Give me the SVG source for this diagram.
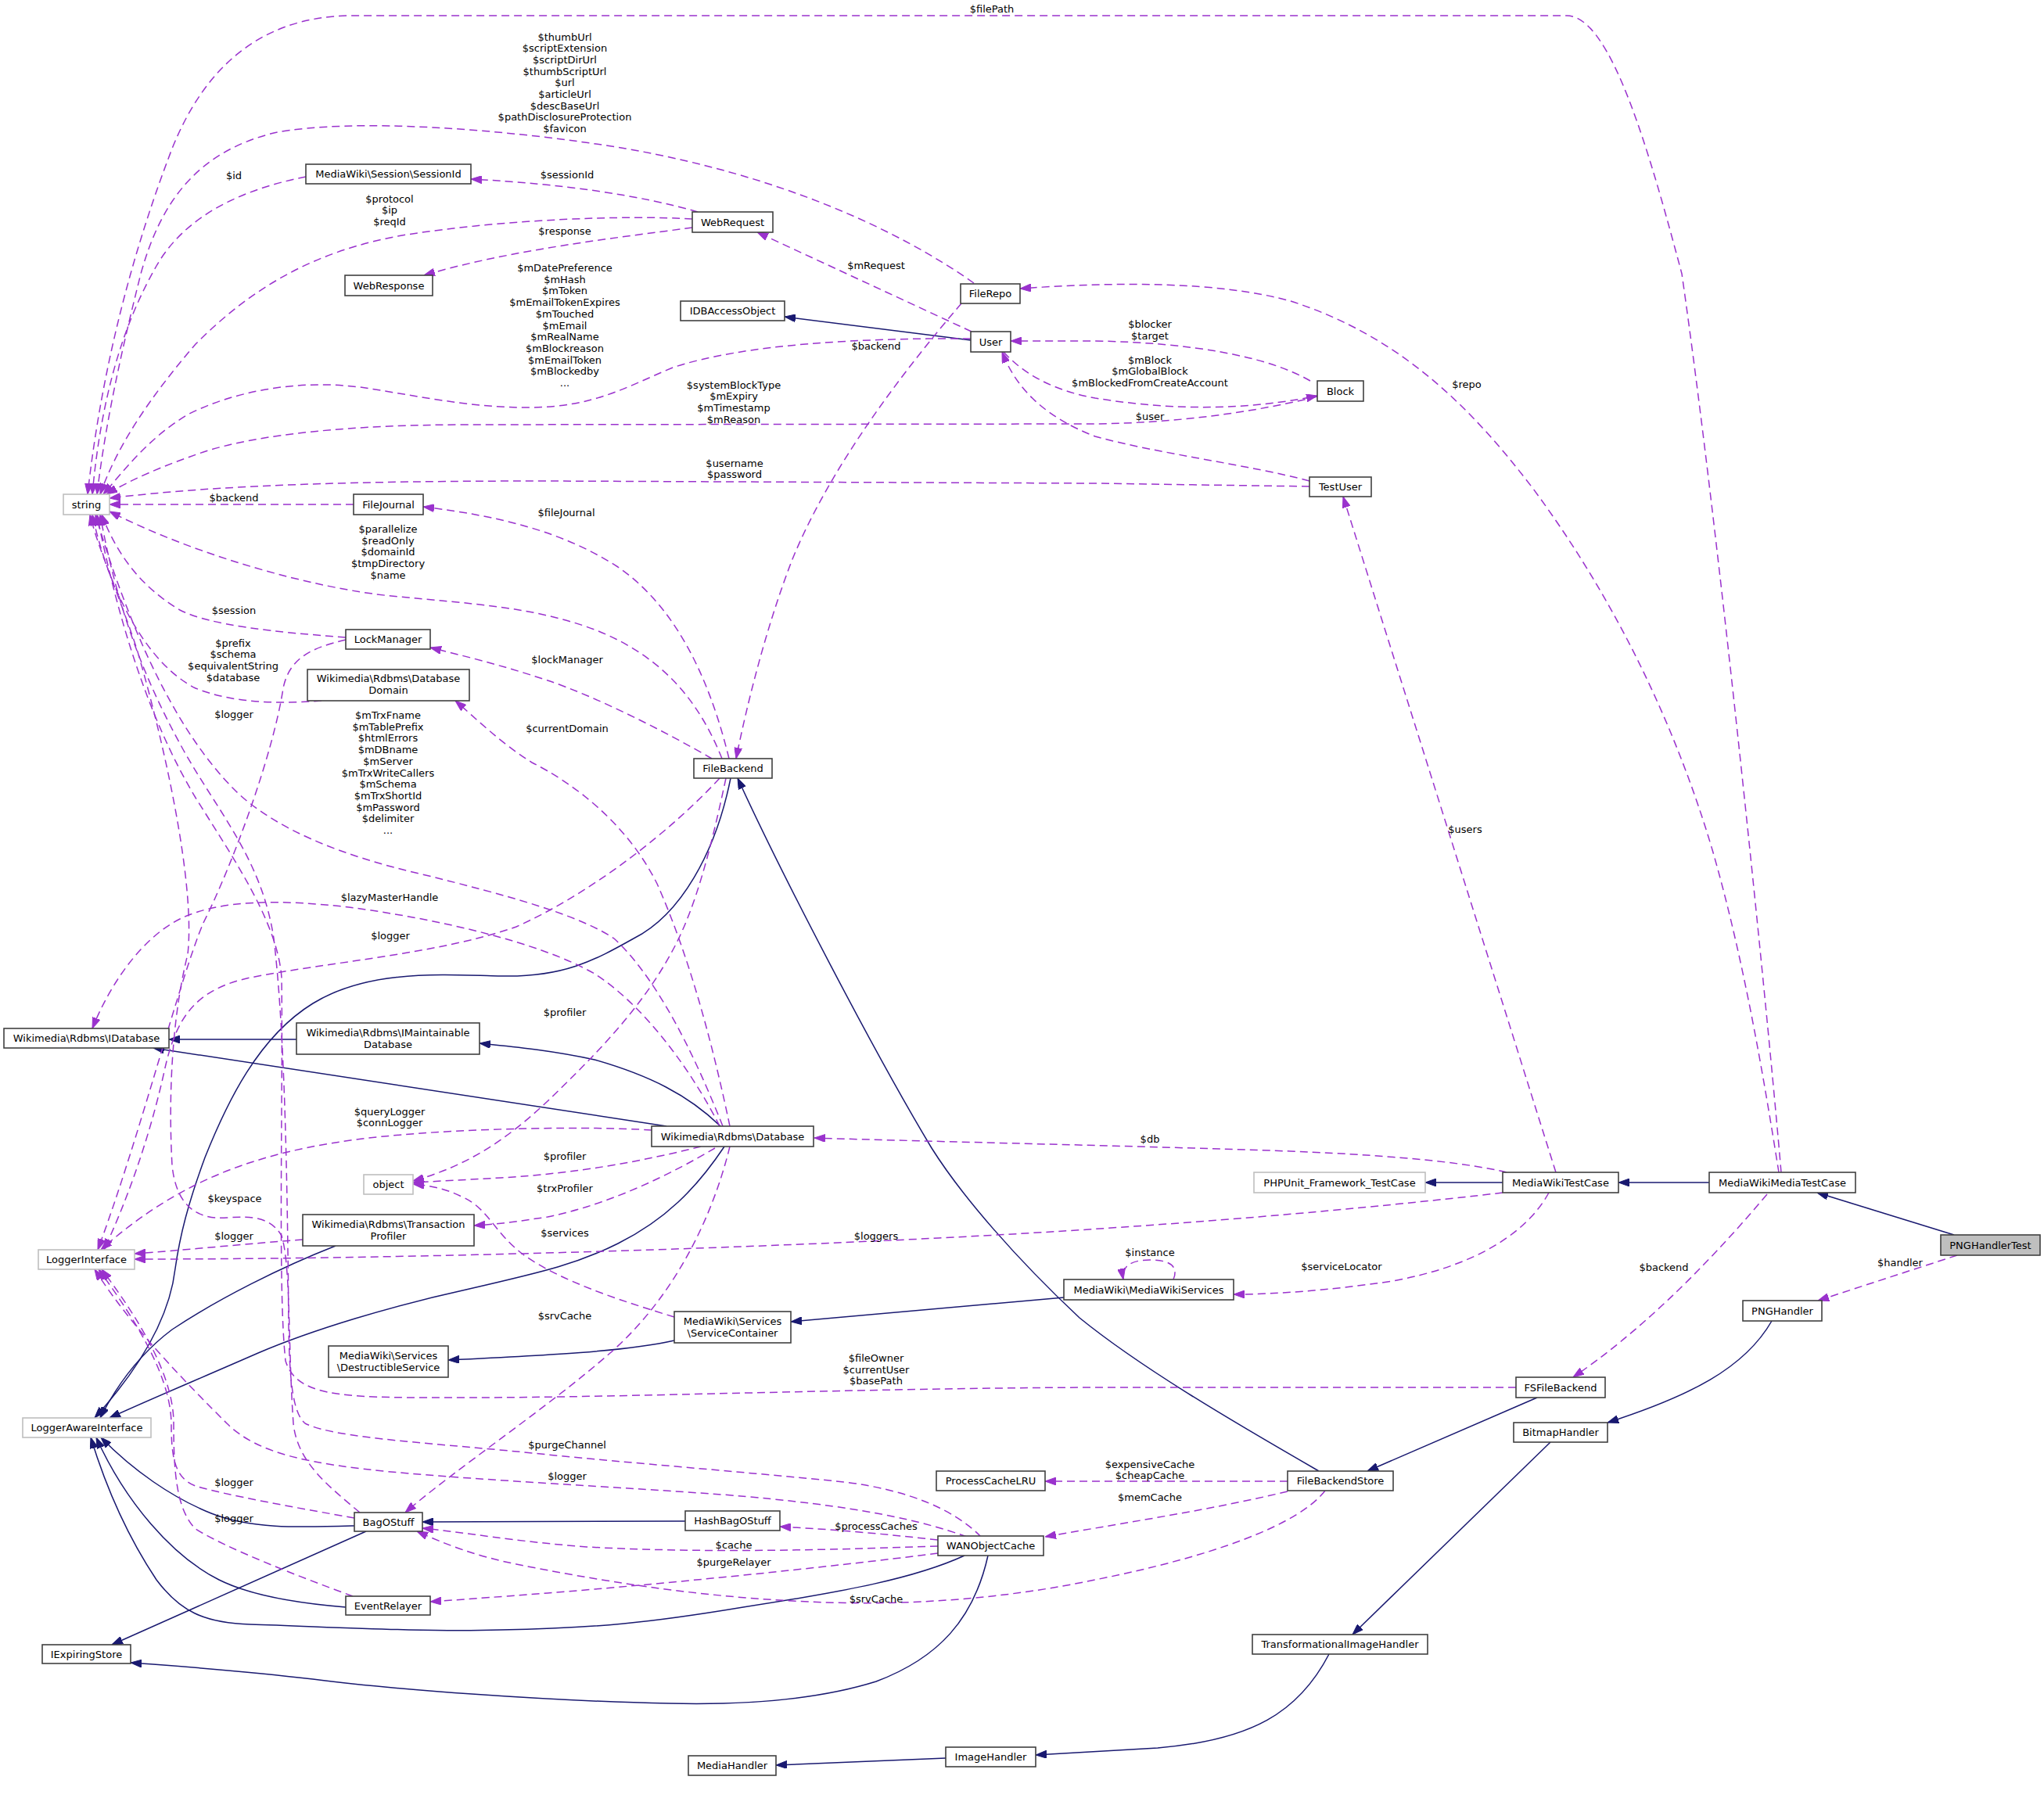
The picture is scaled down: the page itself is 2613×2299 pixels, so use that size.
<svg xmlns="http://www.w3.org/2000/svg" width="2613" height="2299" viewBox="0 0 2613 2299">
<style>
text{font-family:"DejaVu Sans","Liberation Sans",sans-serif;font-size:13px;fill:#000}
.nd rect{fill:#fff;stroke:#404040;stroke-width:1.6}
.nd.gr rect{stroke:#bfbfbf}
.nd.hl rect{fill:#bfbfbf}
.nd text{text-anchor:middle}
.lb{text-anchor:middle}
.u{fill:none;stroke:#9a32cd;stroke-width:1.5;stroke-dasharray:10,6;marker-end:url(#ap)}
.i{fill:none;stroke:#191970;stroke-width:1.5;marker-end:url(#an)}
</style>
<defs>
<marker id="ap" viewBox="0 0 14 10" refX="14" refY="5" markerWidth="14" markerHeight="10" markerUnits="userSpaceOnUse" orient="auto"><path d="M0,0 L14,5 L0,10 z" fill="#9a32cd" stroke="#9a32cd"/></marker>
<marker id="an" viewBox="0 0 14 10" refX="14" refY="5" markerWidth="14" markerHeight="10" markerUnits="userSpaceOnUse" orient="auto"><path d="M0,0 L14,5 L0,10 z" fill="#191970" stroke="#191970"/></marker>
</defs>
<rect width="2613" height="2299" fill="#fff"/>
<g id="edges">
<path class="i" d="M1241,435 L1003,405"/>
<path class="i" d="M934,995 C915,1090 870,1170 810,1200 C760,1228 720,1250 640,1248 C560,1246 470,1240 400,1283 C330,1326 290,1410 262,1480 C240,1540 230,1580 224,1622 C215,1700 160,1770 121,1813"/>
<path class="i" d="M926,1466 C890,1520 850,1560 790,1590 C740,1615 700,1625 600,1648 C500,1670 400,1700 330,1730 C250,1765 190,1790 140,1813"/>
<path class="i" d="M429,1593 C360,1620 280,1660 220,1700 C180,1730 150,1770 128,1813"/>
<path class="i" d="M453,1951 C380,1953 320,1955 270,1935 C220,1915 170,1880 129,1838"/>
<path class="i" d="M442,2055 C380,2050 320,2040 280,2020 C220,1990 160,1920 123,1838"/>
<path class="i" d="M1233,1989 C1170,2018 1080,2035 950,2055 C830,2075 760,2082 640,2084 C540,2087 420,2080 320,2077 C260,2075 230,2060 200,2020 C160,1960 135,1900 116,1838"/>
<path class="i" d="M379,1329 L216,1329"/>
<path class="i" d="M921,1440 C880,1400 830,1375 760,1355 C700,1342 650,1338 613,1334"/>
<path class="i" d="M852,1440 L196,1340"/>
<path class="i" d="M862,1714 C800,1728 700,1733 573,1739"/>
<path class="i" d="M1360,1659 L1011,1690"/>
<path class="i" d="M876,1945 L540,1946"/>
<path class="i" d="M468,1958 L143,2103"/>
<path class="i" d="M1263,1989 C1245,2070 1200,2120 1120,2150 C1040,2175 940,2180 856,2178 C700,2175 500,2160 400,2147 C300,2135 220,2130 167,2126"/>
<path class="i" d="M1921,1512 L1822,1512"/>
<path class="i" d="M2185,1512 L2069,1512"/>
<path class="i" d="M2498,1579 L2323,1525"/>
<path class="i" d="M2265,1689 C2230,1750 2160,1785 2055,1819"/>
<path class="i" d="M1965,1787 L1748,1881"/>
<path class="i" d="M1686,1881 C1580,1820 1460,1750 1380,1685 C1300,1610 1230,1530 1191,1468 C1120,1350 1000,1120 943,995"/>
<path class="i" d="M1982,1844 L1729,2090"/>
<path class="i" d="M1699,2115 C1660,2190 1600,2225 1480,2235 L1324,2244"/>
<path class="i" d="M1209,2248 L992,2257"/>

<path class="u" d="M2277,1499 C2260,1300 2200,700 2150,350 C2110,200 2060,20 2003,20 L446,20 C330,22 260,90 220,190 C170,320 130,470 112,632"/>
<text class="lb" x="1268" y="16">$filePath</text>
<path class="u" d="M2274,1499 C2255,1380 2230,1230 2190,1090 C2140,920 2060,760 1960,625 C1880,520 1790,430 1650,385 C1560,360 1430,360 1304,369"/>
<text class="lb" x="1875" y="495.5">$repo</text>
<path class="u" d="M1245,362 C1150,295 1000,225 800,190 C650,165 450,150 350,170 C250,195 205,260 180,350 C155,450 135,540 124,632"/>
<text class="lb" x="722" y="51.5">$thumbUrl</text>
<text class="lb" x="722" y="66.2">$scriptExtension</text>
<text class="lb" x="722" y="80.9">$scriptDirUrl</text>
<text class="lb" x="722" y="95.6">$thumbScriptUrl</text>
<text class="lb" x="722" y="110.3">$url</text>
<text class="lb" x="722" y="125">$articleUrl</text>
<text class="lb" x="722" y="139.7">$descBaseUrl</text>
<text class="lb" x="722" y="154.4">$pathDisclosureProtection</text>
<text class="lb" x="722" y="169.1">$favicon</text>
<path class="u" d="M391,226 C320,240 240,270 200,340 C160,410 130,500 118,632"/>
<text class="lb" x="299" y="228.5">$id</text>
<path class="u" d="M885,280 C800,275 650,280 520,300 C400,320 320,370 250,440 C190,510 150,570 128,632"/>
<text class="lb" x="498" y="258.5">$protocol</text>
<text class="lb" x="498" y="273.2">$ip</text>
<text class="lb" x="498" y="287.9">$reqId</text>
<path class="u" d="M892,271 C820,250 720,235 602,229"/>
<text class="lb" x="725" y="227.5">$sessionId</text>
<path class="u" d="M885,291 C780,305 650,320 542,352"/>
<text class="lb" x="722" y="299.5">$response</text>
<path class="u" d="M1242,424 L968,297"/>
<text class="lb" x="1120" y="343.5">$mRequest</text>
<path class="u" d="M1241,433 C1100,432 950,440 860,470 C800,495 760,520 680,521 C600,522 530,505 460,495 C380,485 300,500 240,530 C190,560 160,600 132,632"/>
<text class="lb" x="722" y="347">$mDatePreference</text>
<text class="lb" x="722" y="361.7">$mHash</text>
<text class="lb" x="722" y="376.4">$mToken</text>
<text class="lb" x="722" y="391.1">$mEmailTokenExpires</text>
<text class="lb" x="722" y="405.8">$mTouched</text>
<text class="lb" x="722" y="420.5">$mEmail</text>
<text class="lb" x="722" y="435.2">$mRealName</text>
<text class="lb" x="722" y="449.9">$mBlockreason</text>
<text class="lb" x="722" y="464.6">$mEmailToken</text>
<text class="lb" x="722" y="479.3">$mBlockedby</text>
<text class="lb" x="722" y="494">...</text>
<path class="u" d="M1684,507 C1600,528 1500,541 1400,542 L600,543 C450,543 330,555 260,578 C210,595 170,612 136,632"/>
<text class="lb" x="938" y="496.5">$systemBlockType</text>
<text class="lb" x="938" y="511.2">$mExpiry</text>
<text class="lb" x="938" y="525.9">$mTimestamp</text>
<text class="lb" x="938" y="540.6">$mReason</text>
<path class="u" d="M1674,622 L1400,618 L700,615 C450,615 280,620 140,637"/>
<text class="lb" x="939" y="596.5">$username</text>
<text class="lb" x="939" y="611.2">$password</text>
<path class="u" d="M1283,450 C1310,480 1350,500 1400,509 C1480,522 1580,528 1684,506"/>
<text class="lb" x="1470" y="464.5">$mBlock</text>
<text class="lb" x="1470" y="479.2">$mGlobalBlock</text>
<text class="lb" x="1470" y="493.9">$mBlockedFromCreateAccount</text>
<path class="u" d="M1675,487 C1620,455 1520,438 1400,436 L1292,436"/>
<text class="lb" x="1470" y="419">$blocker</text>
<text class="lb" x="1470" y="433.7">$target</text>
<path class="u" d="M1674,615 C1600,595 1480,580 1400,558 C1340,535 1300,500 1281,450"/>
<text class="lb" x="1470" y="536.5">$user</text>
<path class="u" d="M452,645 L140,645"/>
<text class="lb" x="299" y="640.5">$backend</text>
<path class="u" d="M923,970 C895,900 850,840 760,805 C680,775 600,772 500,762 C400,752 250,710 140,654"/>
<text class="lb" x="496" y="681">$parallelize</text>
<text class="lb" x="496" y="695.7">$readOnly</text>
<text class="lb" x="496" y="710.4">$domainId</text>
<text class="lb" x="496" y="725.1">$tmpDirectory</text>
<text class="lb" x="496" y="739.8">$name</text>
<path class="u" d="M932,970 C910,880 870,780 790,725 C720,680 640,660 541,648"/>
<text class="lb" x="724" y="660">$fileJournal</text>
<path class="u" d="M442,815 C350,808 270,800 230,780 C180,750 150,710 130,658"/>
<text class="lb" x="299" y="784.5">$session</text>
<path class="u" d="M411,896 C360,900 300,900 250,880 C190,850 140,760 118,658"/>
<text class="lb" x="298" y="826.5">$prefix</text>
<text class="lb" x="298" y="841.2">$schema</text>
<text class="lb" x="298" y="855.9">$equivalentString</text>
<text class="lb" x="298" y="870.6">$database</text>
<path class="u" d="M442,818 C400,828 370,840 362,880 C350,960 300,1100 260,1180 C230,1250 180,1450 125,1598"/>
<text class="lb" x="299" y="917.5">$logger</text>
<path class="u" d="M910,970 C850,935 760,890 700,870 C640,850 590,838 550,828"/>
<text class="lb" x="725" y="848">$lockManager</text>
<path class="u" d="M1229,388 C1150,480 1060,600 1013,715 C980,800 955,900 941,970"/>
<text class="lb" x="1120" y="446.5">$backend</text>
<path class="u" d="M933,1440 C910,1330 880,1220 840,1130 C800,1050 730,1000 680,975 C640,950 610,920 582,896"/>
<text class="lb" x="725" y="935.5">$currentDomain</text>
<path class="u" d="M924,1440 C900,1380 850,1260 785,1200 C740,1170 650,1145 536,1117 C440,1095 350,1060 300,1010 C230,940 170,820 122,658"/>
<text class="lb" x="496" y="919">$mTrxFname</text>
<text class="lb" x="496" y="933.7">$mTablePrefix</text>
<text class="lb" x="496" y="948.4">$htmlErrors</text>
<text class="lb" x="496" y="963.1">$mDBname</text>
<text class="lb" x="496" y="977.8">$mServer</text>
<text class="lb" x="496" y="992.5">$mTrxWriteCallers</text>
<text class="lb" x="496" y="1007.2">$mSchema</text>
<text class="lb" x="496" y="1021.9">$mTrxShortId</text>
<text class="lb" x="496" y="1036.6">$mPassword</text>
<text class="lb" x="496" y="1051.3">$delimiter</text>
<text class="lb" x="496" y="1066">...</text>
<path class="u" d="M920,1440 C890,1380 830,1290 760,1245 C690,1205 560,1175 446,1160 C360,1150 280,1150 230,1175 C180,1200 140,1260 118,1315"/>
<text class="lb" x="498" y="1151.5">$lazyMasterHandle</text>
<path class="u" d="M920,995 C860,1060 760,1140 660,1185 C560,1220 420,1230 320,1250 C250,1265 225,1300 210,1370 C190,1460 160,1540 133,1598"/>
<text class="lb" x="499" y="1200.5">$logger</text>
<path class="u" d="M928,995 C910,1080 890,1160 860,1215 C820,1290 760,1350 700,1408 C650,1455 600,1490 528,1510"/>
<text class="lb" x="722" y="1299">$profiler</text>
<path class="u" d="M833,1445 C760,1440 600,1442 491,1453 C400,1462 320,1480 250,1515 C200,1540 160,1570 129,1598"/>
<text class="lb" x="498" y="1425.5">$queryLogger</text>
<text class="lb" x="498" y="1440.2">$connLogger</text>
<path class="u" d="M896,1466 C820,1485 740,1500 640,1506 L528,1512"/>
<text class="lb" x="722" y="1482.5">$profiler</text>
<path class="u" d="M914,1468 C860,1500 780,1540 700,1556 C660,1562 640,1565 606,1567"/>
<text class="lb" x="722" y="1524">$trxProfiler</text>
<path class="u" d="M862,1684 C800,1665 720,1640 670,1605 C630,1575 625,1545 590,1530 C570,1520 550,1516 528,1514"/>
<text class="lb" x="722" y="1581">$services</text>
<path class="u" d="M387,1585 C320,1590 240,1598 172,1603"/>
<text class="lb" x="299" y="1584.5">$logger</text>
<path class="u" d="M1921,1525 C1750,1545 1500,1568 1200,1583 C900,1598 500,1610 172,1610"/>
<text class="lb" x="1120" y="1584.5">$loggers</text>
<path class="u" d="M1926,1499 C1880,1488 1800,1478 1650,1472 C1450,1465 1200,1460 1041,1455"/>
<text class="lb" x="1470" y="1460.5">$db</text>
<path class="u" d="M1989,1499 L1717,635"/>
<text class="lb" x="1873" y="1064.5">$users</text>
<path class="u" d="M1980,1525 C1950,1580 1880,1620 1780,1638 C1700,1650 1630,1655 1577,1655"/>
<text class="lb" x="1715" y="1623.5">$serviceLocator</text>
<path class="u" d="M1500,1636 C1506,1622 1500,1611 1470,1611 C1445,1611 1433,1620 1436,1636"/>
<text class="lb" x="1470" y="1606">$instance</text>
<path class="u" d="M2259,1527 Q2130,1680 2011,1761"/>
<text class="lb" x="2127" y="1624.5">$backend</text>
<path class="u" d="M2502,1605 L2324,1663"/>
<text class="lb" x="2429" y="1619">$handler</text>
<path class="u" d="M1938,1774 L1400,1774 C1100,1775 800,1787 600,1787 C450,1787 380,1790 365,1740 C355,1650 362,1400 360,1250 C355,1180 300,1100 250,1020 C190,920 150,790 124,658"/>
<text class="lb" x="1120" y="1741">$fileOwner</text>
<text class="lb" x="1120" y="1755.7">$currentUser</text>
<text class="lb" x="1120" y="1770.4">$basePath</text>
<path class="u" d="M1254,1965 C1220,1930 1160,1905 1080,1895 C950,1882 800,1870 700,1860 C560,1845 430,1840 390,1820 C365,1800 370,1700 368,1600 C366,1450 362,1300 350,1200 C335,1100 280,1040 235,960 C185,870 150,780 128,658"/>
<text class="lb" x="725" y="1851.5">$purgeChannel</text>
<path class="u" d="M460,1934 C420,1900 380,1870 375,1820 C368,1720 372,1620 360,1580 C345,1555 320,1555 290,1557 C250,1560 225,1540 220,1490 C215,1400 220,1300 240,1220 C250,1130 210,950 175,830 C150,755 125,700 115,658"/>
<text class="lb" x="300" y="1537">$keyspace</text>
<path class="u" d="M1236,1965 C1180,1945 1100,1925 923,1911 C800,1902 620,1893 500,1882 C400,1872 330,1860 290,1820 C240,1770 170,1700 121,1623"/>
<text class="lb" x="725" y="1892">$logger</text>
<path class="u" d="M453,1941 C380,1928 290,1912 250,1900 C222,1890 219,1860 219,1820 C218,1760 175,1690 126,1623"/>
<text class="lb" x="299" y="1899.5">$logger</text>
<path class="u" d="M451,2041 C380,2015 290,1980 250,1955 C225,1930 222,1880 222,1820 C222,1760 180,1690 130,1623"/>
<text class="lb" x="299" y="1945.5">$logger</text>
<path class="u" d="M1199,1969 C1100,1958 1050,1955 997,1952"/>
<text class="lb" x="1120" y="1956">$processCaches</text>
<path class="u" d="M1199,1977 C1050,1982 900,1986 750,1978 C650,1970 600,1960 540,1954"/>
<text class="lb" x="938" y="1979.5">$cache</text>
<path class="u" d="M1199,1986 C1050,2005 850,2025 700,2037 C620,2043 580,2046 550,2048"/>
<text class="lb" x="938" y="2001.5">$purgeRelayer</text>
<path class="u" d="M1646,1907 C1550,1930 1450,1945 1336,1965"/>
<text class="lb" x="1470" y="1918.5">$memCache</text>
<path class="u" d="M1646,1894 L1336,1894"/>
<text class="lb" x="1470" y="1877">$expensiveCache</text>
<text class="lb" x="1470" y="1891">$cheapCache</text>
<path class="u" d="M1694,1906 C1660,1950 1550,1990 1400,2020 C1280,2045 1150,2055 1013,2047 C880,2040 760,2020 660,2000 C610,1990 570,1975 533,1958"/>
<text class="lb" x="1120" y="2048.5">$srvCache</text>
<path class="u" d="M933,1466 C910,1560 860,1660 780,1730 C700,1800 580,1880 518,1934"/>
<text class="lb" x="722" y="1686.5">$srvCache</text>
</g>

<g id="node-SessionId" class="nd"><rect x="391" y="210" width="211" height="25"/><text x="496.5" y="227">MediaWiki\Session\SessionId</text></g>
<g id="node-WebRequest" class="nd"><rect x="885" y="271" width="103" height="26"/><text x="936.5" y="288.5">WebRequest</text></g>
<g id="node-WebResponse" class="nd"><rect x="441" y="352" width="112" height="26"/><text x="497" y="369.5">WebResponse</text></g>
<g id="node-IDBAccessObject" class="nd"><rect x="870" y="385" width="133" height="25"/><text x="936.5" y="402">IDBAccessObject</text></g>
<g id="node-FileRepo" class="nd"><rect x="1228" y="363" width="76" height="25"/><text x="1266" y="380">FileRepo</text></g>
<g id="node-User" class="nd"><rect x="1241" y="424" width="51" height="26"/><text x="1266.5" y="441.5">User</text></g>
<g id="node-Block" class="nd"><rect x="1684" y="487" width="59" height="26"/><text x="1713.5" y="504.5">Block</text></g>
<g id="node-TestUser" class="nd"><rect x="1674" y="610" width="79" height="25"/><text x="1713.5" y="627">TestUser</text></g>
<g id="node-string" class="nd gr"><rect x="81" y="632" width="59" height="26"/><text x="110.5" y="649.5">string</text></g>
<g id="node-FileJournal" class="nd"><rect x="452" y="632" width="89" height="26"/><text x="496.5" y="649.5">FileJournal</text></g>
<g id="node-LockManager" class="nd"><rect x="442" y="805" width="108" height="25"/><text x="496" y="822">LockManager</text></g>
<g id="node-DatabaseDomain" class="nd"><rect x="393" y="856" width="207" height="40"/><text x="496.5" y="872">Wikimedia\Rdbms\Database</text><text x="496.5" y="887">Domain</text></g>
<g id="node-FileBackend" class="nd"><rect x="887" y="970" width="100" height="25"/><text x="937" y="987">FileBackend</text></g>
<g id="node-IDatabase" class="nd"><rect x="5" y="1315" width="211" height="25"/><text x="110.5" y="1332">Wikimedia\Rdbms\IDatabase</text></g>
<g id="node-IMaintainableDatabase" class="nd"><rect x="379" y="1308" width="234" height="40"/><text x="496" y="1324.5">Wikimedia\Rdbms\IMaintainable</text><text x="496" y="1339.5">Database</text></g>
<g id="node-Database" class="nd"><rect x="833" y="1440" width="207" height="26"/><text x="936.5" y="1457.5">Wikimedia\Rdbms\Database</text></g>
<g id="node-object" class="nd gr"><rect x="465" y="1502" width="63" height="25"/><text x="496.5" y="1519">object</text></g>
<g id="node-TransactionProfiler" class="nd"><rect x="387" y="1553" width="219" height="40"/><text x="496.5" y="1569.5">Wikimedia\Rdbms\Transaction</text><text x="496.5" y="1584.5">Profiler</text></g>
<g id="node-LoggerInterface" class="nd gr"><rect x="49" y="1598" width="123" height="25"/><text x="110.5" y="1615">LoggerInterface</text></g>
<g id="node-DestructibleService" class="nd"><rect x="420" y="1721" width="153" height="40"/><text x="496.5" y="1737.5">MediaWiki\Services</text><text x="496.5" y="1752.5">\DestructibleService</text></g>
<g id="node-ServiceContainer" class="nd"><rect x="862" y="1677" width="149" height="40"/><text x="936.5" y="1693.5">MediaWiki\Services</text><text x="936.5" y="1708.5">\ServiceContainer</text></g>
<g id="node-MediaWikiServices" class="nd"><rect x="1360" y="1636" width="217" height="26"/><text x="1468.5" y="1653.5">MediaWiki\MediaWikiServices</text></g>
<g id="node-PHPUnit" class="nd gr"><rect x="1603" y="1499" width="219" height="26"/><text x="1712.5" y="1516.5">PHPUnit_Framework_TestCase</text></g>
<g id="node-MediaWikiTestCase" class="nd"><rect x="1921" y="1499" width="148" height="26"/><text x="1995" y="1516.5">MediaWikiTestCase</text></g>
<g id="node-MediaWikiMediaTestCase" class="nd"><rect x="2185" y="1499" width="187" height="26"/><text x="2278.5" y="1516.5">MediaWikiMediaTestCase</text></g>
<g id="node-PNGHandlerTest" class="nd hl"><rect x="2481" y="1579" width="127" height="26"/><text x="2544.5" y="1596.5">PNGHandlerTest</text></g>
<g id="node-PNGHandler" class="nd"><rect x="2228" y="1663" width="101" height="26"/><text x="2278.5" y="1680.5">PNGHandler</text></g>
<g id="node-FSFileBackend" class="nd"><rect x="1938" y="1761" width="114" height="26"/><text x="1995" y="1778.5">FSFileBackend</text></g>
<g id="node-BitmapHandler" class="nd"><rect x="1935" y="1819" width="120" height="25"/><text x="1995" y="1836">BitmapHandler</text></g>
<g id="node-LoggerAwareInterface" class="nd gr"><rect x="29" y="1813" width="164" height="25"/><text x="111" y="1830">LoggerAwareInterface</text></g>
<g id="node-ProcessCacheLRU" class="nd"><rect x="1197" y="1881" width="139" height="25"/><text x="1266.5" y="1898">ProcessCacheLRU</text></g>
<g id="node-FileBackendStore" class="nd"><rect x="1646" y="1881" width="135" height="25"/><text x="1713.5" y="1898">FileBackendStore</text></g>
<g id="node-BagOStuff" class="nd"><rect x="453" y="1934" width="87" height="24"/><text x="496.5" y="1950.5">BagOStuff</text></g>
<g id="node-HashBagOStuff" class="nd"><rect x="876" y="1932" width="121" height="25"/><text x="936.5" y="1949">HashBagOStuff</text></g>
<g id="node-WANObjectCache" class="nd"><rect x="1199" y="1964" width="135" height="25"/><text x="1266.5" y="1981">WANObjectCache</text></g>
<g id="node-EventRelayer" class="nd"><rect x="442" y="2041" width="108" height="24"/><text x="496" y="2057.5">EventRelayer</text></g>
<g id="node-IExpiringStore" class="nd"><rect x="54" y="2103" width="113" height="24"/><text x="110.5" y="2119.5">IExpiringStore</text></g>
<g id="node-TransformationalImageHandler" class="nd"><rect x="1601" y="2090" width="224" height="25"/><text x="1713" y="2107">TransformationalImageHandler</text></g>
<g id="node-ImageHandler" class="nd"><rect x="1209" y="2234" width="115" height="25"/><text x="1266.5" y="2251">ImageHandler</text></g>
<g id="node-MediaHandler" class="nd"><rect x="880" y="2245" width="112" height="25"/><text x="936" y="2262">MediaHandler</text></g>
</svg>
